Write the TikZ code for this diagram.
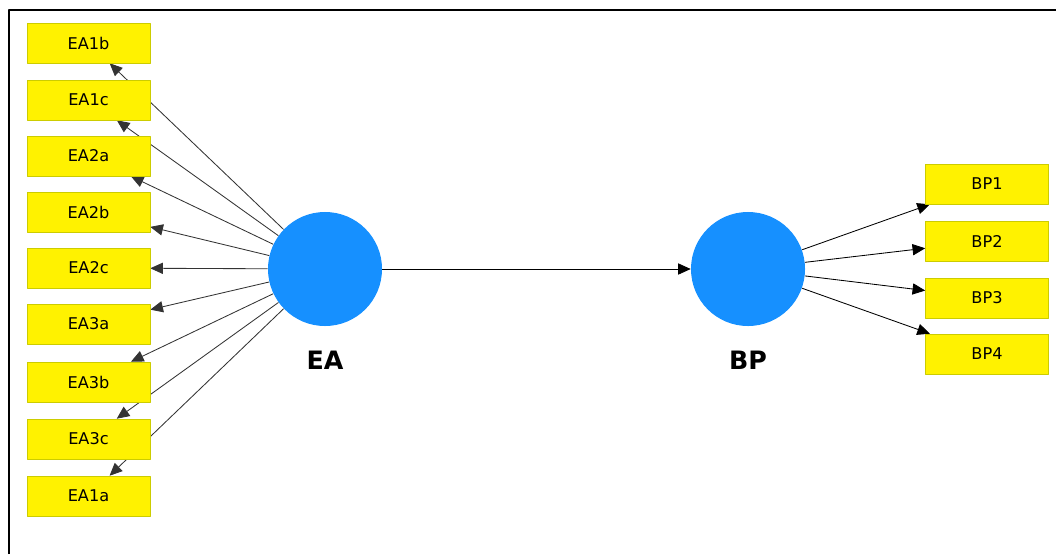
\documentclass[tikz,border=0pt]{standalone}
\usepackage{fontspec}
\setmainfont{DejaVu Sans}
\usetikzlibrary{arrows.meta,positioning,backgrounds}
\definecolor{latblue}{RGB}{22,144,255}
\definecolor{boxedge}{RGB}{204,204,0}

\begin{document}
\begin{tikzpicture}[x=0.025cm, y=-0.025cm, line join=round,
  ind/.style={draw=boxedge, fill=yellow, minimum width=3.075cm, minimum height=1cm, inner sep=0pt, font=\fontsize{11.5}{13}\selectfont},
  lat/.style={circle, fill=latblue, minimum size=2.85cm, inner sep=0pt},
  lab/.style={font=\fontsize{18}{20}\selectfont\bfseries},
  load/.style={-{Triangle[length=9pt,width=8pt]}, black!80, line width=0.6pt}]
\useasboundingbox (0,0) rectangle (1056,554);
\draw[line width=1.4pt] (9,554) -- (9,10) -- (1056,10);
\node[lat] (EA) at (325,269) {};
\node[lat] (BP) at (748,269) {};
\node[lab] (EAlab) at (325,360) {EA};
\node[lab] (BPlab) at (748,360) {BP};
\node[ind] (EA1b) at (88.5,43)  {EA1b};
\node[ind] (EA1c) at (88.5,100) {EA1c};
\node[ind] (EA2a) at (88.5,156) {EA2a};
\node[ind] (EA2b) at (88.5,212) {EA2b};
\node[ind] (EA2c) at (88.5,268) {EA2c};
\node[ind] (EA3a) at (88.5,324) {EA3a};
\node[ind] (EA3b) at (88.5,382) {EA3b};
\node[ind] (EA3c) at (88.5,439) {EA3c};
\node[ind] (EA1a) at (88.5,496) {EA1a};
\node[ind] (BP1) at (987,184) {BP1};
\node[ind] (BP2) at (987,241) {BP2};
\node[ind] (BP3) at (987,298) {BP3};
\node[ind] (BP4) at (987,354) {BP4};
\begin{pgfonlayer}{background}
\draw[load] (EA) -- (EA1b);
\draw[load] (EA) -- (EA1c);
\draw[load] (EA) -- (EA2a);
\draw[load] (EA) -- (EA2b);
\draw[load] (EA) -- (EA2c);
\draw[load] (EA) -- (EA3a);
\draw[load] (EA) -- (EA3b);
\draw[load] (EA) -- (EA3c);
\draw[load] (EA) -- (EA1a);
\draw[load,black] (EA) -- (BP);
\draw[load,black] (BP) -- (BP1);
\draw[load,black] (BP) -- (BP2);
\draw[load,black] (BP) -- (BP3);
\draw[load,black] (BP) -- (BP4);
\end{pgfonlayer}
\end{tikzpicture}
\end{document}
